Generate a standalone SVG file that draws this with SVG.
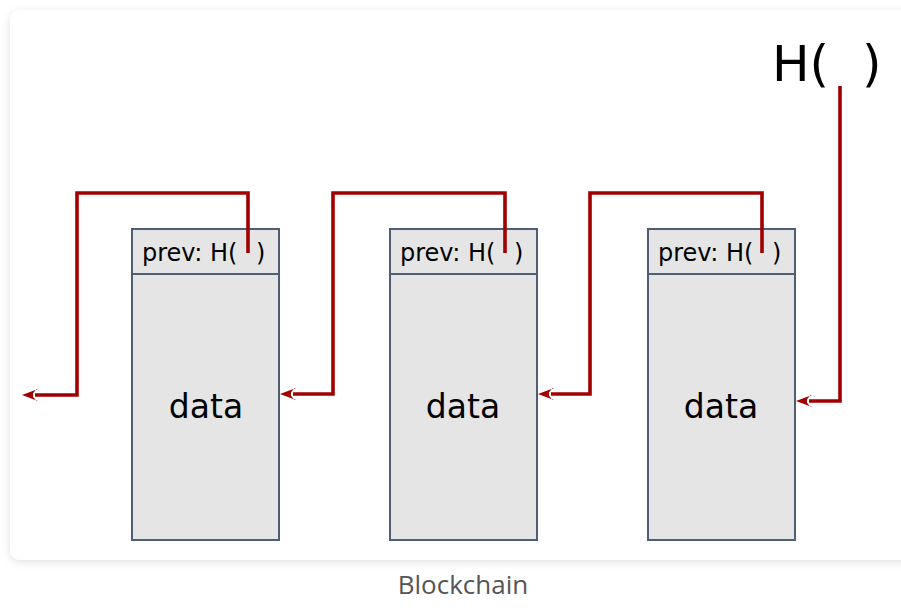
<svg xmlns="http://www.w3.org/2000/svg" width="901" height="608" viewBox="0 0 901 608">
  <defs>
    <filter id="cardShadow" x="-5%" y="-5%" width="110%" height="115%">
      <feDropShadow dx="0" dy="2" stdDeviation="4" flood-color="#000" flood-opacity="0.12"/>
    </filter>
    <marker id="arrow" viewBox="0 0 16 13" refX="3" refY="6.5" markerWidth="16" markerHeight="13" markerUnits="userSpaceOnUse" orient="auto-start-reverse">
      <path d="M16,6.5 L0,0.5 L1.5,0.5 L5,4.8 L5,8.2 L1.5,12.5 L0,12.5 Z" fill="#a00000"/>
    </marker>
  </defs>
  <style>
    .block { fill: #e5e5e5; stroke: #4f5d75; stroke-width: 2; }
    .wire { fill: none; stroke: #a00000; stroke-width: 3.6; stroke-linejoin: miter; }
    .hdr { font-family: "DejaVu Sans", sans-serif; font-size: 24px; fill: #000; }
    .data { font-family: "DejaVu Sans", sans-serif; font-size: 33px; fill: #000; text-anchor: middle; }
    .top { font-family: "DejaVu Sans", sans-serif; font-size: 50px; fill: #000; }
    .caption { font-family: "Open Sans", sans-serif; font-size: 26px; fill: #555; text-anchor: middle; }
  </style>

  <rect width="901" height="608" fill="#ffffff"/>
  <rect x="10" y="10" width="910" height="550" rx="10" fill="#ffffff" filter="url(#cardShadow)"/>

  <g id="block1">
    <rect class="block" x="132" y="229" width="147" height="311"/>
    <line class="block" x1="132" y1="274" x2="279" y2="274"/>
    <text class="hdr" x="142" y="261">prev: H(<tspan x="256">)</tspan></text>
    <text class="data" x="206" y="418">data</text>
  </g>
  <g id="block2">
    <rect class="block" x="390" y="229" width="147" height="311"/>
    <line class="block" x1="390" y1="274" x2="537" y2="274"/>
    <text class="hdr" x="400" y="261">prev: H(<tspan x="514">)</tspan></text>
    <text class="data" x="463" y="418">data</text>
  </g>
  <g id="block3">
    <rect class="block" x="648" y="229" width="147" height="311"/>
    <line class="block" x1="648" y1="274" x2="795" y2="274"/>
    <text class="hdr" x="658" y="261">prev: H(<tspan x="772">)</tspan></text>
    <text class="data" x="721" y="418">data</text>
  </g>
  <g id="head-hash">
    <text class="top" x="772" y="81">H(<tspan x="862">)</tspan></text>
  </g>

  <g id="connectors">
    <path class="wire" d="M248,253 V193 H77 V395 H35" marker-end="url(#arrow)"/>
    <path class="wire" d="M505,253 V193 H333 V394 H293" marker-end="url(#arrow)"/>
    <path class="wire" d="M762,253 V193 H590 V394 H551" marker-end="url(#arrow)"/>
    <path class="wire" d="M840,86 V401 H809" marker-end="url(#arrow)"/>
  </g>

  <text class="caption" x="463" y="594">Blockchain</text>
</svg>
